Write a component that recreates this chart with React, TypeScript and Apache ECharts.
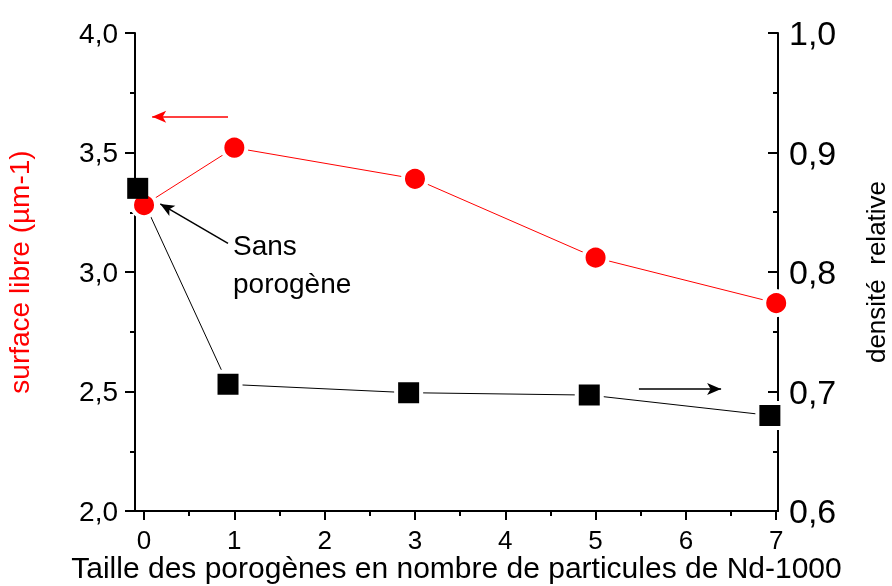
import React, { useEffect, useRef } from 'react';
import * as echarts from 'echarts';

const porogenSizes = [0, 1, 3, 5, 7];
const surfaceLibre = [3.28, 3.52, 3.39, 3.06, 2.87];
const densitePositions = [-0.07, 0.93, 2.93, 4.93, 6.93];
const densiteRelative = [0.87, 0.706, 0.699, 0.697, 0.68];
const xTicks = [0, 1, 2, 3, 4, 5, 6, 7];
const xMinorTicks = [0.5, 1.5, 2.5, 3.5, 4.5, 5.5, 6.5];

const xTitle = 'Taille des porogènes en nombre de particules de Nd-1000';
const leftTitle = 'surface libre (µm-1)';
const rightTitle = 'densité  relative';
const noteText = 'Sans\nporogène';

// arrows in data coordinates
const redArrow = { from: [0.93, 3.65], to: [0.09, 3.65] };
const blackArrow = { from: [5.48, 0.702], to: [6.39, 0.702] };
const noteArrow = { from: [0.93, 0.824], to: [0.18, 0.857] };

const FONT = '"Liberation Sans", Arial, sans-serif';
const fmt = (v: number) => v.toFixed(1).replace('.', ',');

export default function App() {
  const ref = useRef<HTMLDivElement>(null);
  useEffect(() => {
    if (!ref.current) return;
    const chart = echarts.init(ref.current, undefined, { renderer: 'svg' });
    const arrowML = (a: { from: number[]; to: number[] }, color: string) => ({
      silent: true,
      symbol: ['none', 'arrow'],
      symbolSize: [9, 14],
      label: { show: false },
      emphasis: { disabled: true },
      lineStyle: { color, width: 1.5, type: 'solid' },
      data: [[{ coord: a.from }, { coord: a.to }]],
    });
    const option: any = {
      animation: false,
      textStyle: { fontFamily: FONT },
      grid: { left: 135, right: 114, top: 33, bottom: 75, containLabel: false, outerBoundsMode: 'none' },
      xAxis: [
        {
          type: 'value',
          min: -0.1,
          max: 7.02,
          position: 'bottom',
          axisLine: { show: true, onZero: false, lineStyle: { color: '#000', width: 2 } },
          axisTick: { show: true, customValues: xTicks, length: 9, lineStyle: { color: '#000', width: 2 } },
          axisLabel: {
            customValues: xTicks,
            formatter: (v: number) => String(Math.round(v)),
            fontSize: 26,
            lineHeight: 22,
            color: '#000',
            margin: 18,
            fontFamily: FONT,
          },
          splitLine: { show: false },
          name: xTitle,
          nameLocation: 'middle',
          nameGap: 44,
          nameMoveOverlap: false,
          nameTextStyle: { fontSize: 30, lineHeight: 24, color: '#000', fontFamily: FONT },
        },
        {
          type: 'value',
          min: -0.1,
          max: 7.02,
          position: 'bottom',
          axisLine: { show: false, onZero: false },
          axisTick: { show: true, customValues: xMinorTicks, length: 5, lineStyle: { color: '#000', width: 2 } },
          axisLabel: { show: false },
          splitLine: { show: false },
        },
      ],
      yAxis: [
        {
          type: 'value',
          min: 2,
          max: 4,
          interval: 0.5,
          position: 'left',
          axisLine: { show: true, onZero: false, lineStyle: { color: '#000', width: 2 } },
          axisTick: { show: true, length: 10, lineStyle: { color: '#000', width: 2 } },
          minorTick: { show: true, splitNumber: 2, length: 5, lineStyle: { color: '#000', width: 2 } },
          axisLabel: { formatter: fmt, fontSize: 28, color: '#000', margin: 17, fontFamily: FONT },
          splitLine: { show: false },
          minorSplitLine: { show: false },
          name: leftTitle,
          nameLocation: 'middle',
          nameRotate: 90,
          nameGap: 102,
          nameMoveOverlap: false,
          nameTextStyle: { fontSize: 28, color: '#ff0000', fontFamily: FONT },
        },
        {
          type: 'value',
          min: 0.6,
          max: 1.0,
          interval: 0.1,
          position: 'right',
          axisLine: { show: true, onZero: false, lineStyle: { color: '#000', width: 2 } },
          axisTick: { show: true, inside: true, length: 10, lineStyle: { color: '#000', width: 2 } },
          minorTick: { show: true, splitNumber: 2, length: 5, lineStyle: { color: '#000', width: 2 } },
          axisLabel: { formatter: fmt, fontSize: 34, color: '#000', margin: 11, fontFamily: FONT },
          splitLine: { show: false },
          minorSplitLine: { show: false },
          name: rightTitle,
          nameLocation: 'middle',
          nameRotate: 90,
          nameGap: 85,
          nameMoveOverlap: false,
          nameTextStyle: { fontSize: 26, color: '#000', fontFamily: FONT },
        },
      ],
      series: [
        {
          type: 'line',
          xAxisIndex: 0,
          yAxisIndex: 0,
          clip: false,
          data: porogenSizes.map((x, i) => [x, surfaceLibre[i]]),
          symbol: 'circle',
          symbolSize: 24,
          lineStyle: { color: '#ff0000', width: 1 },
          itemStyle: { color: '#ff0000', borderColor: '#fff', borderWidth: 4 },
          emphasis: { disabled: true },
          markLine: arrowML(redArrow, '#ff0000'),
        },
        {
          type: 'line',
          xAxisIndex: 0,
          yAxisIndex: 1,
          clip: false,
          data: densitePositions.map((x, i) =>
            i === 0
              ? { value: [x, densiteRelative[i]], symbolSize: 21, itemStyle: { borderWidth: 0 } }
              : [x, densiteRelative[i]]
          ),
          symbol: 'rect',
          symbolSize: 25,
          lineStyle: { color: '#000', width: 1 },
          itemStyle: { color: '#000', borderColor: '#fff', borderWidth: 4 },
          emphasis: { disabled: true },
          markLine: {
            ...arrowML(blackArrow, '#000'),
            data: [
              [{ coord: blackArrow.from }, { coord: blackArrow.to }],
              [{ coord: noteArrow.from }, { coord: noteArrow.to }],
            ],
          },
        },
      ],
    };
    chart.setOption(option);
    const p = chart.convertToPixel({ xAxisIndex: 0, yAxisIndex: 0 }, [0.985, 3.112]) as number[];
    chart.setOption({
      graphic: [
        {
          type: 'text',
          x: p[0],
          y: p[1] - 19,
          style: {
            text: noteText,
            font: `28px ${FONT}`,
            fill: '#000',
            lineHeight: 38,
            textVerticalAlign: 'top',
          },
        },
      ],
    });
    return () => chart.dispose();
  }, []);
  return <div ref={ref} style={{ position: 'fixed', left: 0, top: 0, width: 892, height: 586 }} />;
}
